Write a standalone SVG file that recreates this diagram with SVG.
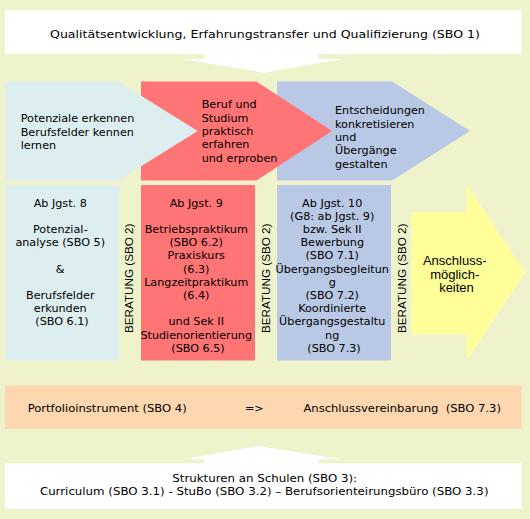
<svg xmlns="http://www.w3.org/2000/svg" width="530" height="519" viewBox="0 0 530 519">
<style>
.t{font-family:"DejaVu Sans",Verdana,sans-serif;font-size:11.2px;fill:#000}
.c{text-anchor:middle}
.a{font-family:"Liberation Sans",Arial,sans-serif;fill:#000}
.ber{font-size:11.7px;text-anchor:middle}
.lb{fill:#DDEEF0}
.rd{fill:#FF7474}
.bl{fill:#B9C8E4}
.wh{fill:#FFFFFF}
</style>
<rect x="0" y="0" width="530" height="519" fill="#EFF3CC"/>

<g id="connectors">
  <polygon class="wh" points="204.3,53 318.3,53 318.3,59 342.7,59 264.3,72.7 181.7,59 204.3,59"/>
  <polygon class="wh" points="204.3,464 204.3,459.3 181.7,459.3 258.3,446 341.7,459.3 318.3,459.3 318.3,464"/>
</g>

<g id="sbo1">
  <rect class="wh" x="5" y="10" width="516.5" height="44"/>
  <text class="t c" x="265" y="38.2" font-size="12.5" textLength="430" lengthAdjust="spacingAndGlyphs">Qualitätsentwicklung, Erfahrungstransfer und Qualifizierung (SBO 1)</text>
</g>

<g id="phase3">
  <polygon class="bl" points="277,81.5 392,81.5 470,131 392,180.5 277,180.5"/>
  <text class="t" x="335">
    <tspan x="335" y="114.3">Entscheidungen</tspan>
    <tspan x="335" y="127.6">konkretisieren</tspan>
    <tspan x="335" y="140.9">und</tspan>
    <tspan x="335" y="154.2">Übergänge</tspan>
    <tspan x="335" y="167.5">gestalten</tspan>
  </text>
</g>

<g id="phase2">
  <polygon class="rd" points="141,81.5 256.5,81.5 332,131 256.5,180.5 141,180.5"/>
  <text class="t" x="201.7">
    <tspan x="201.7" y="108.3">Beruf und</tspan>
    <tspan x="201.7" y="121.6">Studium</tspan>
    <tspan x="201.7" y="134.9">praktisch</tspan>
    <tspan x="201.7" y="148.2">erfahren</tspan>
    <tspan x="201.7" y="161.5">und erproben</tspan>
  </text>
</g>

<g id="phase1">
  <polygon class="lb" points="5,81.5 118.3,81.5 197.7,131 118.3,180.5 5,180.5"/>
  <text class="t" x="20.7">
    <tspan x="20.7" y="122.3">Potenziale erkennen</tspan>
    <tspan x="20.7" y="135.6">Berufsfelder kennen</tspan>
    <tspan x="20.7" y="148.9">lernen</tspan>
  </text>
</g>

<g id="box-jgst8">
  <rect class="lb" x="5" y="185" width="114" height="175.5"/>
  <text class="t c">
    <tspan x="62" y="206.5">Ab Jgst. 8</tspan>
    <tspan x="62" y="232.9">Potenzial-</tspan>
    <tspan x="62" y="246.1">analyse (SBO 5)</tspan>
    <tspan x="62" y="272.5">&amp;</tspan>
    <tspan x="62" y="298.9">Berufsfelder</tspan>
    <tspan x="62" y="312.1">erkunden</tspan>
    <tspan x="62" y="325.3">(SBO 6.1)</tspan>
  </text>
</g>

<g id="beratung1">
  <text class="a ber" transform="translate(133.3,278.3) rotate(-90)">BERATUNG (SBO 2)</text>
</g>

<g id="box-jgst9">
  <rect class="rd" x="141" y="185" width="114" height="175.5"/>
  <text class="t c">
    <tspan x="198" y="206.5">Ab Jgst. 9</tspan>
    <tspan x="198" y="232.9">Betriebspraktikum</tspan>
    <tspan x="198" y="246.1">(SBO 6.2)</tspan>
    <tspan x="198" y="259.3">Praxiskurs</tspan>
    <tspan x="198" y="272.5">(6.3)</tspan>
    <tspan x="198" y="285.7">Langzeitpraktikum</tspan>
    <tspan x="198" y="298.9">(6.4)</tspan>
    <tspan x="198" y="325.3">und Sek II</tspan>
    <tspan x="198" y="338.5">Studienorientierung</tspan>
    <tspan x="198" y="351.7">(SBO 6.5)</tspan>
  </text>
</g>

<g id="beratung2">
  <text class="a ber" transform="translate(270,278.3) rotate(-90)">BERATUNG (SBO 2)</text>
</g>

<g id="box-jgst10">
  <rect class="bl" x="277" y="185" width="114" height="175.5"/>
  <text class="t c">
    <tspan x="334" y="206.5">Ab Jgst. 10</tspan>
    <tspan x="334" y="219.7">(G8: ab Jgst. 9)</tspan>
    <tspan x="334" y="232.9">bzw. Sek II</tspan>
    <tspan x="334" y="246.1">Bewerbung</tspan>
    <tspan x="334" y="259.3">(SBO 7.1)</tspan>
    <tspan x="334" y="272.5">Übergangsbegleitun</tspan>
    <tspan x="334" y="285.7">g</tspan>
    <tspan x="334" y="298.9">(SBO 7.2)</tspan>
    <tspan x="334" y="312.1">Koordinierte</tspan>
    <tspan x="334" y="325.3">Übergangsgestaltu</tspan>
    <tspan x="334" y="338.5">ng</tspan>
    <tspan x="334" y="351.7">(SBO 7.3)</tspan>
  </text>
</g>

<g id="beratung3">
  <text class="a ber" transform="translate(405.7,278.3) rotate(-90)">BERATUNG (SBO 2)</text>
</g>

<g id="anschluss">
  <polygon fill="#FFFF99" points="411.7,212.3 466.7,212.3 466.7,185 525,272.5 466.7,360 466.7,334.3 411.7,334.3"/>
  <text class="a c" font-size="13">
    <tspan x="456.5" y="265">Anschluss-</tspan>
    <tspan x="456.5" y="278.5">möglich-</tspan>
    <tspan x="456.5" y="292">keiten</tspan>
  </text>
</g>

<g id="portfolio">
  <rect fill="#FCD7AF" x="5" y="385.5" width="516.5" height="43.5"/>
  <text class="t" x="27.7" y="411.8" textLength="159" lengthAdjust="spacingAndGlyphs">Portfolioinstrument (SBO 4)</text>
  <text class="t" x="245" y="411.8">=&gt;</text>
  <text class="t" x="303.4" y="411.8" xml:space="preserve" textLength="197.6" lengthAdjust="spacingAndGlyphs">Anschlussvereinbarung  (SBO 7.3)</text>
</g>

<g id="sbo3">
  <rect class="wh" x="5" y="463.3" width="516.5" height="45.5"/>
  <text class="t c" x="264.7" y="481.8" textLength="184.7" lengthAdjust="spacingAndGlyphs">Strukturen an Schulen (SBO 3):</text>
  <text class="t c" x="264.2" y="495.3" textLength="448.6" lengthAdjust="spacingAndGlyphs">Curriculum (SBO 3.1) - StuBo (SBO 3.2) – Berufsorienteirungsbüro (SBO 3.3)</text>
</g>
</svg>
